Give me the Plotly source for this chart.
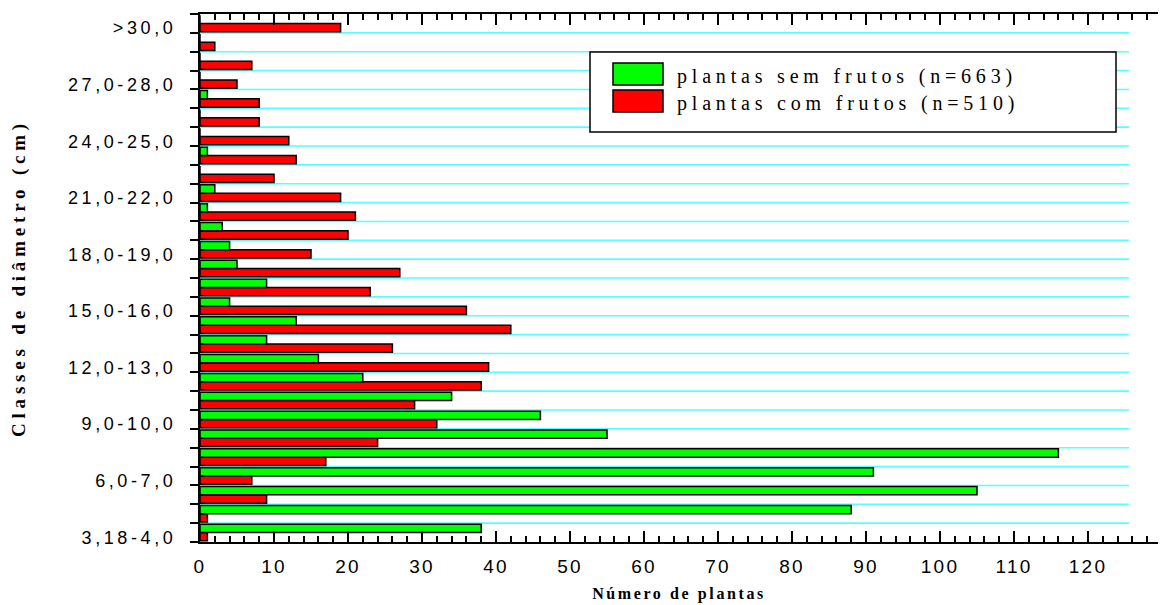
import plotly.graph_objects as go

# Diameter classes (bottom to top)
categories = ["3,18-4,0", "4,0-5,0", "5,0-6,0", "6,0-7,0", "7,0-8,0", "8,0-9,0",
              "9,0-10,0", "10,0-11,0", "11,0-12,0", "12,0-13,0", "13,0-14,0",
              "14,0-15,0", "15,0-16,0", "16,0-17,0", "17,0-18,0", "18,0-19,0",
              "19,0-20,0", "20,0-21,0", "21,0-22,0", "22,0-23,0", "23,0-24,0",
              "24,0-25,0", "25,0-26,0", "26,0-27,0", "27,0-28,0", "28,0-29,0",
              "29,0-30,0", ">30,0"]
sem_frutos = [38, 88, 105, 91, 116, 55, 46, 34, 22, 16, 9, 13, 4, 9, 5, 4,
              3, 1, 2, 0, 1, 0, 0, 1, 0, 0, 0, 0]
com_frutos = [1, 1, 9, 7, 17, 24, 32, 29, 38, 39, 26, 42, 36, 23, 27, 15,
              20, 21, 19, 10, 13, 12, 8, 8, 5, 7, 2, 19]
name_sem = "plantas sem frutos (n=663)"
name_com = "plantas com frutos (n=510)"
labelled_idx = list(range(0, 28, 3))
x_ticks = [0, 10, 20, 30, 40, 50, 60, 70, 80, 90, 100, 110, 120]

# page body has an 8px margin: figure is offset by (8, 8) in the window
OFF = 8
W, H = 1166 - OFF, 605 - OFF
L, R, T, B = 200 - OFF, 8, 14 - OFF, 63
PW, PH = W - L - R, H - T - B
PX_PER_UNIT = 7.4
x_max = PW / PX_PER_UNIT
LABEL_SHIFT = -0.25  # labels sit slightly below the class centre in the original

pos = list(range(len(categories)))


def sp(txt, ls):
    return f'<span style="letter-spacing:{ls}px">{txt}</span>'


def px2paper(x, y):
    # x, y are window pixel positions
    return (x - OFF - L) / PW, 1 - (y - OFF - T) / PH


fig = go.Figure()
fig.add_trace(go.Bar(y=pos, x=com_frutos, orientation="h", name=name_com,
                     marker=dict(color="#FF0000", line=dict(color="black", width=1.5)),
                     customdata=categories, hovertemplate="%{customdata}: %{x}<extra></extra>",
                     showlegend=False))
fig.add_trace(go.Bar(y=pos, x=sem_frutos, orientation="h", name=name_sem,
                     marker=dict(color="#00FF00", line=dict(color="black", width=1.5)),
                     customdata=categories, hovertemplate="%{customdata}: %{x}<extra></extra>",
                     showlegend=False))

shapes = []
# cyan horizontal lines at class boundaries
for i in range(len(categories) - 1):
    shapes.append(dict(type="line", xref="x", yref="y", x0=0, x1=(1129 - 200) / PX_PER_UNIT,
                       y0=i + 0.5, y1=i + 0.5, line=dict(color="#55FFFF", width=1.6),
                       layer="below"))

# legend box
bx0, by0 = px2paper(590, 52)
bx1, by1 = px2paper(1116, 132)
shapes.append(dict(type="rect", xref="paper", yref="paper", x0=bx0, x1=bx1, y0=by1, y1=by0,
                   fillcolor="white", line=dict(color="black", width=1.5), layer="above"))
annotations = []
for (col, nm, ytop, ybot) in [("#00FF00", name_sem, 63, 85), ("#FF0000", name_com, 90, 112)]:
    sx0, sy0 = px2paper(613, ytop)
    sx1, sy1 = px2paper(663, ybot)
    shapes.append(dict(type="rect", xref="paper", yref="paper", x0=sx0, x1=sx1, y0=sy1, y1=sy0,
                       fillcolor=col, line=dict(color="black", width=1.5), layer="above"))
    tx, ty = px2paper(675, (ytop + ybot) / 2 + 2)
    annotations.append(dict(xref="paper", yref="paper", x=tx, y=ty, xanchor="left",
                            yanchor="middle", showarrow=False, text=sp(nm, 4.8),
                            font=dict(family="Liberation Serif", size=20, color="black")))

fig.update_layout(
    width=W, height=H,
    margin=dict(l=L, r=R, t=T, b=B, pad=0, autoexpand=False),
    paper_bgcolor="white", plot_bgcolor="white",
    barmode="group", bargap=0.12, bargroupgap=0.0,
    shapes=shapes, annotations=annotations,
    showlegend=False,
    font=dict(family="Liberation Sans", color="black"),
)

fig.update_xaxes(
    range=[0, x_max], showgrid=False, zeroline=False, automargin=False,
    showline=True, linecolor="black", linewidth=2, mirror="ticks",
    tickmode="array", tickvals=x_ticks, ticktext=[sp(str(v), 2.2) for v in x_ticks],
    ticks="inside", ticklen=11, tickwidth=2, tickcolor="black",
    ticklabelstandoff=6,
    tickfont=dict(family="Liberation Sans", size=19, color="black"),
    minor=dict(tickmode="linear", tick0=0, dtick=2, ticks="inside", ticklen=6,
               tickwidth=2, tickcolor="black"),
    title=dict(text=sp("Número de plantas", 2.6), standoff=12,
               font=dict(family="Liberation Serif", size=16, weight="bold", color="black")),
)

fig.update_yaxes(
    range=[-0.5, len(categories) - 0.5], showgrid=False, zeroline=False, automargin=False,
    showline=True, linecolor="black", linewidth=2, mirror="ticks",
    tickmode="array", tickvals=[i + LABEL_SHIFT for i in labelled_idx],
    ticktext=[sp(categories[i], 3.6) for i in labelled_idx],
    ticks="outside", ticklen=18, tickwidth=0.01, tickcolor="rgba(0,0,0,0)",
    tickfont=dict(family="Liberation Sans", size=18, color="black"),
    minor=dict(tickmode="linear", tick0=0.5, dtick=1, ticks="outside", ticklen=8,
               tickwidth=2, tickcolor="black"),
    title=dict(text=sp("Classes de diâmetro (cm)", 4.8), standoff=38,
               font=dict(family="Liberation Serif", size=19, weight="bold", color="black")),
)

fig.write_html("out.html")
